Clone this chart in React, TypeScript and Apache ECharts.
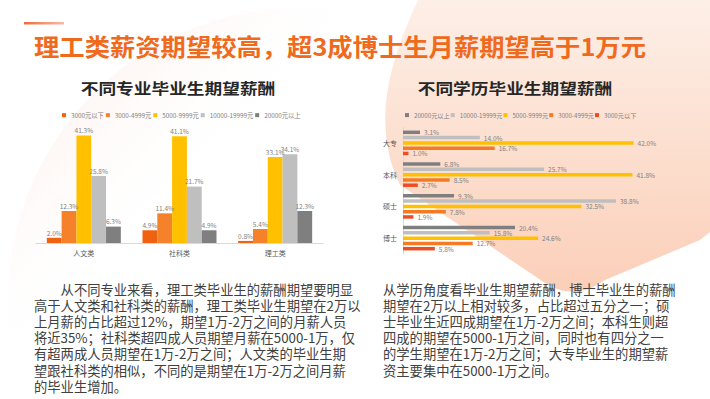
import React, { useEffect, useRef } from "react";
import * as echarts from "echarts";

const mainTitle = "理工类薪资期望较高，超3成博士生月薪期望高于1万元";
const leftSubtitle = "不同专业毕业生期望薪酬";
const rightSubtitle = "不同学历毕业生期望薪酬";

const majorCategories = ["人文类", "社科类", "理工类"];
const majorSeriesNames = ["3000元以下", "3000-4999元", "5000-9999元", "10000-19999元", "20000元以上"];
const majorBelow3000 = [2.0, 4.9, 0.8];
const major3000to4999 = [12.3, 11.4, 5.4];
const major5000to9999 = [41.3, 41.1, 33.1];
const major10000to19999 = [25.8, 21.7, 34.1];
const majorAbove20000 = [6.3, 4.9, 12.3];

const degreeCategories = ["大专", "本科", "硕士", "博士"];
const degreeSeriesNames = ["20000元以上", "10000-19999元", "5000-9999元", "3000-4999元", "3000元以下"];
const degreeAbove20000 = [3.1, 6.8, 9.3, 20.4];
const degree10000to19999 = [14.0, 25.7, 38.8, 15.8];
const degree5000to9999 = [42.0, 41.8, 32.5, 24.6];
const degree3000to4999 = [16.7, 8.5, 7.8, 12.7];
const degreeBelow3000 = [1.0, 2.7, 1.9, 5.8];

const leftParagraph = [
  "　　从不同专业来看，理工类毕业生的薪酬期望要明显",
  "高于人文类和社科类的薪酬，理工类毕业生期望在2万以",
  "上月薪的占比超过12%，期望1万-2万之间的月薪人员",
  "将近35%；社科类超四成人员期望月薪在5000-1万，仅",
  "有超两成人员期望在1万-2万之间；人文类的毕业生期",
  "望跟社科类的相似，不同的是期望在1万-2万之间月薪",
  "的毕业生增加。",
];
const rightParagraph = [
  "从学历角度看毕业生期望薪酬，博士毕业生的薪酬",
  "期望在2万以上相对较多，占比超过五分之一；硕",
  "士毕业生近四成期望在1万-2万之间；本科生则超",
  "四成的期望在5000-1万之间，同时也有四分之一",
  "的学生期望在1万-2万之间；大专毕业生的期望薪",
  "资主要集中在5000-1万之间。",
];

const majorColors = ["#f0620f", "#f5822a", "#ffc000", "#bfbfbf", "#7f7f7f"];
const degreeColors = ["#7f7f7f", "#bfbfbf", "#ffc000", "#f47b23", "#ee4c26"];

const PEACH_PATH =
  "M 418 0 C 395 50 368 120 400 185 L 545 283 Q 575 302 605 280 L 700 240 L 710 232 L 710 0 Z";

const FONT = '"Noto Sans CJK SC", "Noto Sans", sans-serif';

export default function App() {
  const ref = useRef<HTMLDivElement>(null);
  useEffect(() => {
    if (!ref.current) return;
    echarts.graphic.registerShape("peachBlob", echarts.graphic.extendPath(PEACH_PATH, {}) as any);
    const chart = echarts.init(ref.current, null, { renderer: "svg" });

    const pct = (p: any) => Number(p.value).toFixed(1) + "%";
    const majorData = [majorBelow3000, major3000to4999, major5000to9999, major10000to19999, majorAbove20000];
    const degreeData = [degreeAbove20000, degree10000to19999, degree5000to9999, degree3000to4999, degreeBelow3000];

    const leftSeries = majorSeriesNames.map((name, i) => ({
      name,
      type: "bar",
      xAxisIndex: 0,
      yAxisIndex: 0,
      data: majorData[i],
      barWidth: 14.8,
      barGap: "0%",
      itemStyle: { color: majorColors[i] },
      label: {
        show: true,
        position: "top",
        distance: 2,
        fontSize: 6.5,
        color: "#7f7f7f",
        fontFamily: FONT,
        formatter: pct,
      },
    }));
    const rightSeries = degreeSeriesNames.map((name, i) => ({
      name,
      type: "bar",
      xAxisIndex: 1,
      yAxisIndex: 1,
      data: degreeData[i],
      barWidth: 3.5,
      barGap: "51%",
      itemStyle: { color: degreeColors[i] },
      label: {
        show: true,
        position: "right",
        distance: 4,
        fontSize: 6.5,
        color: "#7f7f7f",
        fontFamily: FONT,
        formatter: pct,
      },
    }));

    const option: any = {
      animation: false,
      backgroundColor: "#ffffff",
      textStyle: { fontFamily: FONT },
      graphic: [
        {
          type: "circle",
          z: -10,
          silent: true,
          shape: { cx: 300, cy: 300, r: 292 },
          style: {
            fill: new echarts.graphic.LinearGradient(0, 0, 1, 1, [
              { offset: 0, color: "rgba(248,212,200,0.6)" },
              { offset: 0.33, color: "rgba(255,255,255,0)" },
              { offset: 1, color: "rgba(255,255,255,0)" },
            ]),
          },
        },
        {
          type: "peachBlob",
          z: -9,
          silent: true,
          x: 0,
          y: 0,
          style: {
            fill: new echarts.graphic.LinearGradient(0, 0, 0, 1, [
              { offset: 0, color: "#fdefe7" },
              { offset: 0.6, color: "#fcdccb" },
              { offset: 1, color: "#fbcfb8" },
            ]),
          },
        },
        {
          type: "rect",
          z: 5,
          shape: { x: 24, y: 22, width: 40, height: 2.5 },
          style: {
            fill: new echarts.graphic.LinearGradient(0, 0, 1, 0, [
              { offset: 0, color: "#ee6a3a" },
              { offset: 1, color: "rgba(240,140,100,0.6)" },
            ]),
          },
        },
        {
          type: "text",
          z: 5,
          x: 340,
          y: 45,
          scaleX: 1.055,
          style: {
            text: mainTitle,
            fill: "#ef6a1c",
            font: 'bold 24px ' + FONT,
            textAlign: "center",
            textVerticalAlign: "middle",
          },
        },
        {
          type: "text",
          z: 5,
          x: 178,
          y: 88,
          scaleX: 1.18,
          style: {
            text: leftSubtitle,
            fill: "#262626",
            font: 'bold 15px ' + FONT,
            textAlign: "center",
            textVerticalAlign: "middle",
          },
        },
        {
          type: "text",
          z: 5,
          x: 515,
          y: 88,
          scaleX: 1.18,
          style: {
            text: rightSubtitle,
            fill: "#262626",
            font: 'bold 15px ' + FONT,
            textAlign: "center",
            textVerticalAlign: "middle",
          },
        },
        {
          type: "text",
          z: 5,
          x: 34,
          y: 281,
          style: {
            text: leftParagraph.join("\n"),
            fill: "#404040",
            font: '13.3px ' + FONT,
            lineHeight: 16.2,
            textAlign: "left",
            textVerticalAlign: "top",
          },
        },
        {
          type: "text",
          z: 5,
          x: 383,
          y: 281,
          style: {
            text: rightParagraph.join("\n"),
            fill: "#404040",
            font: '13.3px ' + FONT,
            lineHeight: 16.2,
            textAlign: "left",
            textVerticalAlign: "top",
          },
        },
      ],
      legend: [
        {
          left: 57,
          top: 107,
          itemWidth: 4,
          itemHeight: 4,
          itemGap: 2,
          icon: "rect",
          textStyle: { fontSize: 6.3, color: "#7f7f7f", fontFamily: FONT },
          data: majorSeriesNames.map((n, i) => ({ name: n, itemStyle: { color: majorColors[i] } })),
          selectedMode: false,
        },
        {
          left: 400,
          top: 107,
          itemWidth: 4,
          itemHeight: 4,
          itemGap: 1,
          icon: "rect",
          textStyle: { fontSize: 6.2, color: "#7f7f7f", fontFamily: FONT },
          data: degreeSeriesNames.map((n, i) => ({ name: n, itemStyle: { color: degreeColors[i] } })),
          selectedMode: false,
        },
      ],
      grid: [
        { left: 36, top: 126, width: 287, height: 117, containLabel: false },
        { left: 403, top: 127, width: 274.5, height: 127, containLabel: false },
      ],
      xAxis: [
        {
          type: "category",
          gridIndex: 0,
          data: majorCategories,
          axisLine: { lineStyle: { color: "#d9d9d9" } },
          axisTick: { show: false },
          axisLabel: { fontSize: 7, color: "#595959", margin: 6, fontFamily: FONT },
        },
        {
          type: "value",
          gridIndex: 1,
          min: 0,
          max: 50,
          show: false,
          splitLine: { show: false },
        },
      ],
      yAxis: [
        {
          type: "value",
          gridIndex: 0,
          min: 0,
          max: 45,
          show: false,
          splitLine: { show: false },
        },
        {
          type: "category",
          gridIndex: 1,
          inverse: true,
          data: degreeCategories,
          axisLine: { lineStyle: { color: "#d9d9d9" } },
          axisTick: { show: false },
          axisLabel: { fontSize: 7, color: "#595959", margin: 6, fontFamily: FONT },
        },
      ],
      series: [...leftSeries, ...rightSeries],
    };

    chart.setOption(option);
    return () => chart.dispose();
  }, []);

  return (
    <div
      ref={ref}
      style={{ position: "fixed", left: 0, top: 0, width: 710, height: 399, background: "#fff" }}
    />
  );
}
